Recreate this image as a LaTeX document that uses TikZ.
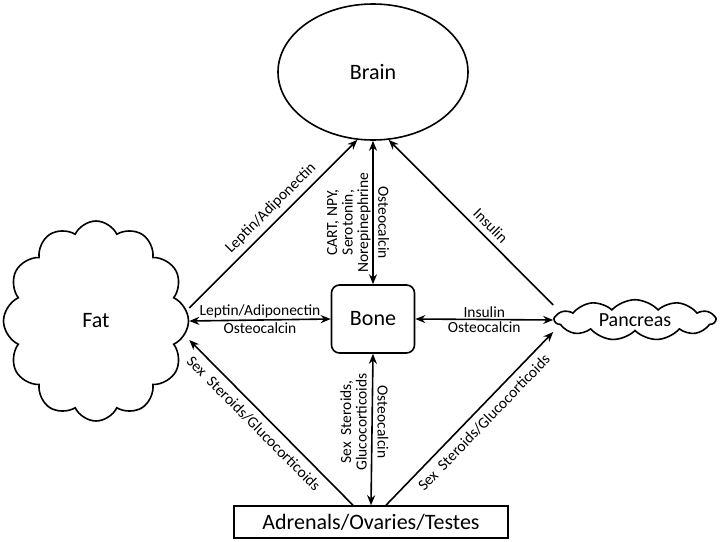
\documentclass[tikz,border=0pt]{standalone}
\usepackage{fontspec}
\setmainfont{Carlito}
\usetikzlibrary{shapes.geometric,shapes.symbols,arrows.meta}
\begin{document}
\begin{tikzpicture}[x=1pt,y=-1pt,
    >={Stealth[length=10pt,width=8pt]},
    organ/.style={draw,line width=1.6pt,font=\fontsize{22}{24}\selectfont},
    msg/.style={font=\fontsize{15.5}{15.5}\selectfont,inner sep=1.5pt},
    every path/.append style={line width=1.6pt}]
  \useasboundingbox (0,0) rectangle (720,541);
  \node[organ,ellipse,minimum width=190pt,minimum height=136pt] (brain) at (373,72) {Brain};
  \node[organ,rounded corners=8pt,minimum width=83pt,minimum height=68pt] (bone) at (373,319) {Bone};
  \node[organ,cloud,cloud puffs=12,cloud puff arc=130,cloud ignores aspect,minimum width=185pt,minimum height=200pt] (fat) at (96,321) {Fat};
  \node[organ,cloud,cloud puffs=11,cloud puff arc=95,cloud ignores aspect,minimum width=160pt,minimum height=36pt,font=\fontsize{20}{22}\selectfont] (pancreas) at (635,320) {Pancreas};
  \node[organ,minimum width=274pt,minimum height=32pt] (glands) at (371,522) {Adrenals/Ovaries/Testes};
  \begin{scope}
    \draw[->] ([yshift=13pt]fat.east) -- node[msg,pos=0.54,sloped,above=4pt]{Leptin/Adiponectin} (brain.257);
    \draw[<->] (fat.east) -- node[msg,above]{Leptin/Adiponectin} node[msg,below]{Osteocalcin} (bone.west);
    \draw[<-] ([yshift=-19pt]fat.east) -- node[msg,pos=0.45,sloped,below=5pt]{Sex\ \ Steroids/Glucocorticoids} ([xshift=-18pt]glands.north);
    \draw[<->] (brain.south) -- node[msg,pos=0.57,rotate=90,anchor=south,align=center]{CART, NPY,\\Serotonin,\\Norepinephrine}
      node[msg,pos=0.57,rotate=-90,anchor=south,inner sep=4.5pt]{Osteocalcin} (bone.north);
    \draw[<->] (bone.south) -- node[msg,pos=0.45,rotate=90,anchor=south,align=center,inner sep=4.5pt]{Sex\ \ Steroids,\\Glucocorticoids}
      node[msg,pos=0.45,rotate=-90,anchor=south,inner sep=4.5pt]{Osteocalcin} (glands.north);
    \draw[<-] (brain.283) -- node[msg,pos=0.57,sloped,above=4pt]{Insulin} ([yshift=15pt]pancreas.west);
    \draw[<->] (bone.east) -- node[msg,above]{Insulin} node[msg,below]{Osteocalcin} (pancreas.west);
    \draw[->] ([xshift=15pt]glands.north) -- node[msg,pos=0.53,sloped,below=5pt]{Sex\ \ Steroids/Glucocorticoids} ([yshift=-12pt]pancreas.west);
  \end{scope}
\end{tikzpicture}
\end{document}
